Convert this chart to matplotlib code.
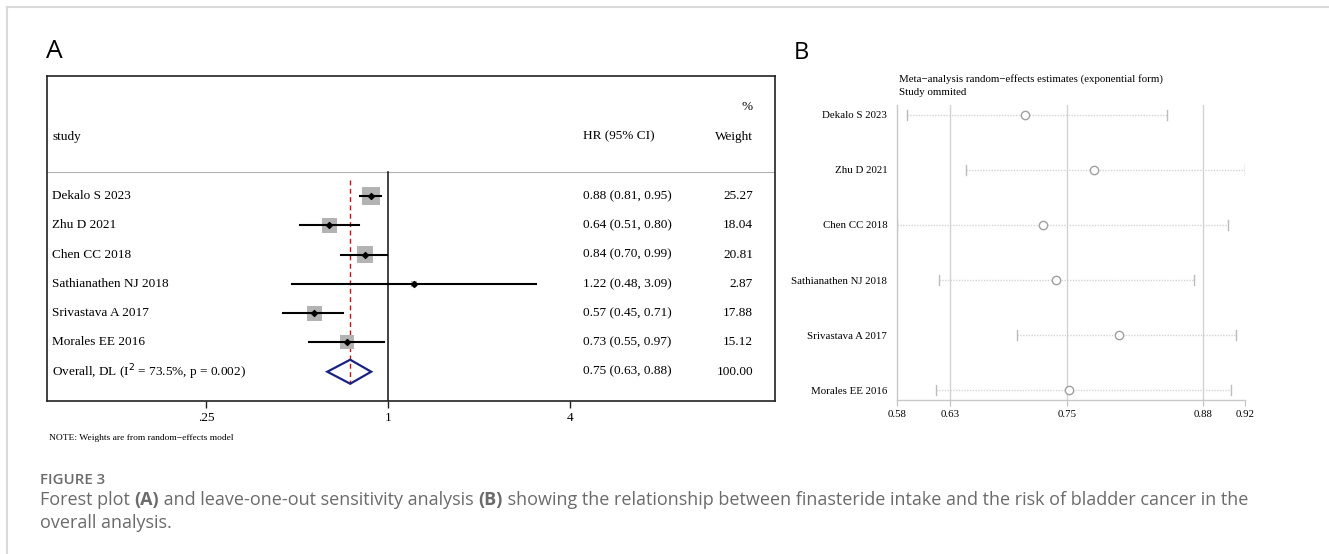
import numpy as np
import matplotlib
matplotlib.use("Agg")
import matplotlib.pyplot as plt
from matplotlib.patches import Polygon
from matplotlib.lines import Line2D
import matplotlib.transforms as mtransforms

# ---------------- data ----------------
studies = ["Dekalo S 2023", "Zhu D 2021", "Chen CC 2018",
           "Sathianathen NJ 2018", "Srivastava A 2017", "Morales EE 2016"]
hr = [0.88, 0.64, 0.84, 1.22, 0.57, 0.73]
hr_lo = [0.81, 0.51, 0.70, 0.48, 0.45, 0.55]
hr_hi = [0.95, 0.80, 0.99, 3.09, 0.71, 0.97]
weights = [25.27, 18.04, 20.81, 2.87, 17.88, 15.12]
overall = [0.75, 0.63, 0.88]
overall_weight = 100.00
overall_label = "Overall, DL (I$^2$ = 73.5%, p = 0.002)"
a_ticks = [0.25, 1, 4]
a_ticklabels = [".25", "1", "4"]

# leave-one-out estimates (panel B)
loo_est = [0.705, 0.772, 0.723, 0.735, 0.797, 0.748]
loo_lo = [0.590, 0.647, 0.580, 0.621, 0.697, 0.618]
loo_hi = [0.844, 0.920, 0.903, 0.870, 0.911, 0.906]
b_ticks = [0.58, 0.632, 0.746, 0.879, 0.92]
b_ticklabels = ["0.58", "0.63", "0.75", "0.88", "0.92"]
b_grid = [0.632, 0.746, 0.879]

W, H = 1329, 554
fig = plt.figure(figsize=(W / 100, H / 100), dpi=100)

def fx(x):
    return x / W

def fy(y):
    return 1 - y / H

SERIF = "Liberation Serif"
SANS = "Open Sans"

# outer frame
fig.add_artist(Line2D([fx(7), 1], [fy(7), fy(7)], color="#d9d9d9", lw=1.5))
fig.add_artist(Line2D([fx(7), fx(7)], [fy(7), 0], color="#d9d9d9", lw=1.5))

# ---------------- panel A ----------------
axA = fig.add_axes([fx(47), fy(401), (775 - 47) / W, (401 - 76) / H])
axA.set_xscale("log", base=2)
axA.set_xlim(2 ** -3.747, 2 ** 4.253)
axA.set_ylim(8.0, -3.10)
for s in axA.spines.values():
    s.set_color("#222222")
    s.set_linewidth(1.2)
axA.set_yticks([])
axA.set_xticks(a_ticks)
axA.set_xticklabels(a_ticklabels, fontfamily=SERIF, fontsize=9.5)
axA.xaxis.set_minor_locator(matplotlib.ticker.NullLocator())
axA.tick_params(axis="x", direction="out", length=5, width=1, color="#222222", pad=3)

rows = np.arange(1, len(studies) + 1)
trA = mtransforms.blended_transform_factory(axA.transAxes, axA.transData)

# header separator
axA.plot([0, 1], [0.18, 0.18], transform=trA, color="#b0b0b0", lw=0.8)
# line of no effect
axA.plot([1, 1], [0.18, 8.0], color="#222222", lw=1.2)
# overall estimate dashed line
axA.plot([overall[0], overall[0]], [0.45, 7.42], color="#c0141c", lw=1.0,
         linestyle=(0, (3.5, 2.5)))

# CI lines
for r, lo, hi in zip(rows, hr_lo, hr_hi):
    axA.plot([lo, hi], [r, r], color="black", lw=1.5, zorder=3)
axA.scatter(hr, rows, marker="s", s=[6.65 * w for w in weights],
            color="#b3b3b3", edgecolors="none", zorder=2)
axA.scatter(hr, rows, marker="D", s=9, color="black", zorder=4)

# overall diamond
yo = len(studies) + 1
diamond = Polygon([(overall[1], yo), (overall[0], yo - 0.41),
                   (overall[2], yo), (overall[0], yo + 0.41)],
                  closed=True, fill=False, edgecolor="#1a2380", lw=1.6, zorder=5)
axA.add_patch(diamond)

fsA = 9.5
axA.text(0.0069, -1.03, "study", transform=trA, fontfamily=SERIF, fontsize=fsA, va="center")
axA.text(0.7363, -1.03, "HR (95% CI)", transform=trA, fontfamily=SERIF, fontsize=fsA, va="center")
axA.text(0.9698, -1.03, "Weight", transform=trA, fontfamily=SERIF, fontsize=fsA, va="center", ha="right")
axA.text(0.9698, -2.04, "%", transform=trA, fontfamily=SERIF, fontsize=fsA, va="center", ha="right")

for r, name, h, lo, hi, w in zip(rows, studies, hr, hr_lo, hr_hi, weights):
    axA.text(0.0069, r, name, transform=trA, fontfamily=SERIF, fontsize=fsA, va="center")
    axA.text(0.7363, r, f"{h:.2f} ({lo:.2f}, {hi:.2f})", transform=trA,
             fontfamily=SERIF, fontsize=fsA, va="center")
    axA.text(0.9698, r, f"{w:.2f}", transform=trA, fontfamily=SERIF,
             fontsize=fsA, va="center", ha="right")
axA.text(0.0069, yo, overall_label, transform=trA, fontfamily=SERIF, fontsize=fsA, va="center")
axA.text(0.7363, yo, f"{overall[0]:.2f} ({overall[1]:.2f}, {overall[2]:.2f})", transform=trA,
         fontfamily=SERIF, fontsize=fsA, va="center")
axA.text(0.9698, yo, f"{overall_weight:.2f}", transform=trA, fontfamily=SERIF,
         fontsize=fsA, va="center", ha="right")

fig.text(fx(49), fy(438), "NOTE: Weights are from random\u2212effects model",
         fontfamily=SERIF, fontsize=6.8, va="center", ha="left")

fig.text(fx(46), fy(52), "A", fontfamily=SANS, fontsize=19, va="center", ha="left")
fig.text(fx(794), fy(53), "B", fontfamily=SANS, fontsize=17, va="center", ha="left")

# ---------------- panel B ----------------
axB = fig.add_axes([fx(897), fy(400), (1245 - 897) / W, (400 - 105) / H])
axB.set_xlim(0.58, 0.92)
axB.set_ylim(len(studies) + 0.18, 1 - 0.18)
for side in ["top", "right"]:
    axB.spines[side].set_visible(False)
for side in ["left", "bottom"]:
    axB.spines[side].set_color("#c8c8c8")
    axB.spines[side].set_linewidth(1.0)
for g in b_grid:
    axB.axvline(g, color="#d2d2d2", lw=1.0, zorder=0)
axB.set_xticks(b_ticks)
axB.set_xticklabels(b_ticklabels, fontfamily=SERIF, fontsize=7.8)
axB.tick_params(axis="x", direction="out", length=4, color="#c0c0c0", pad=3)
axB.set_yticks(rows)
axB.set_yticklabels(studies, fontfamily=SERIF, fontsize=7.8)
axB.tick_params(axis="y", length=0, pad=7)

for r, lo, hi in zip(rows, loo_lo, loo_hi):
    axB.plot([lo, hi], [r, r], color="#d4d4d4", lw=1.0, linestyle=(0, (1, 1)), zorder=1)
    axB.plot([lo, lo], [r - 0.09, r + 0.09], color="#bcbcbc", lw=1.0, zorder=2)
    axB.plot([hi, hi], [r - 0.09, r + 0.09], color="#bcbcbc", lw=1.0, zorder=2)
axB.plot(loo_est, rows, linestyle="none", marker="o", markersize=6,
         markerfacecolor="white", markeredgecolor="#a0a0a0", markeredgewidth=1.0, zorder=3)

fig.text(fx(899), fy(79), "Meta\u2212analysis random\u2212effects estimates (exponential form)",
         fontfamily=SERIF, fontsize=7.8, va="center", ha="left")
fig.text(fx(899), fy(93), "Study ommited", fontfamily=SERIF, fontsize=7.8,
         va="center", ha="left")

# ---------------- caption ----------------
cap_color = "#6b6b6b"
fig.text(fx(40), fy(484), "FIGURE 3", fontfamily=SANS, fontsize=10.8,
         fontweight="semibold", color=cap_color, va="baseline", ha="left")

renderer = fig.canvas.get_renderer()

def runs(x0, ybase, parts, size):
    x = x0
    for txt, bold in parts:
        t = fig.text(fx(x), fy(ybase), txt, fontfamily=SANS, fontsize=size,
                     fontweight="bold" if bold else "normal", color=cap_color,
                     va="baseline", ha="left")
        bb = t.get_window_extent(renderer=renderer)
        x += bb.width

cap_size = 13.0
runs(40, 505, [("Forest plot ", False), ("(A)", True),
               (" and leave-one-out sensitivity analysis ", False), ("(B)", True),
               (" showing the relationship between finasteride intake and the risk of bladder cancer in the", False)],
     cap_size)
runs(40, 528, [("overall analysis.", False)], cap_size)

fig.savefig("out.png", dpi=100)
